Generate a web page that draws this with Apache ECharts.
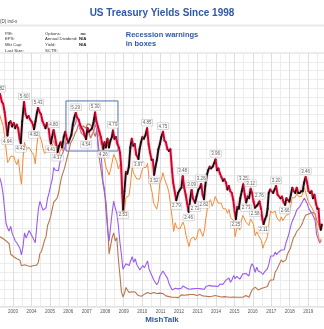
<!DOCTYPE html>
<html><head><meta charset="utf-8">
<script src="https://cdn.jsdelivr.net/npm/echarts@6/dist/echarts.min.js"></script>
<style>html,body{margin:0;padding:0;background:#fff}#c{width:324px;height:329px}</style>
</head><body><div id="c"></div>
<script>
// ---------- DATA ----------
const titleText = 'US Treasury Yields Since 1998';
const noteLines = ['Recession warnings', 'in boxes'];
const footerText = 'MishTalk';

// 30-year yield (black / red), decimal year + value
const tyxDates = [2002.20,2002.30,2002.40,2002.47,2002.55,2002.62,2002.70,2002.78,2002.87,2002.95,
2003.04,2003.12,2003.20,2003.28,2003.36,2003.42,2003.50,2003.60,2003.68,2003.76,2003.85,2003.93,
2004.00,2004.08,2004.14,2004.22,2004.30,2004.36,2004.45,2004.52,2004.60,2004.68,2004.76,2004.84,2004.92,
2005.00,2005.05,2005.12,2005.20,2005.28,2005.36,2005.42,2005.50,2005.58,2005.66,2005.75,2005.83,2005.92,
2006.00,2006.08,2006.16,2006.24,2006.32,2006.40,2006.48,2006.56,2006.64,2006.72,2006.80,2006.88,2006.96,
2007.04,2007.12,2007.20,2007.28,2007.36,2007.45,2007.52,2007.60,2007.68,2007.76,2007.84,2007.90,2007.96,
2008.04,2008.12,2008.20,2008.28,2008.36,2008.42,2008.50,2008.58,2008.66,2008.74,2008.80,2008.86,2008.92,2008.97,
2009.04,2009.12,2009.20,2009.28,2009.36,2009.44,2009.52,2009.60,2009.68,2009.80,2009.86,2009.94,
2010.02,2010.10,2010.18,2010.27,2010.35,2010.43,2010.51,2010.58,2010.65,2010.72,2010.80,2010.88,2010.96,
2011.04,2011.13,2011.21,2011.29,2011.37,2011.45,2011.53,2011.61,2011.68,2011.85,2011.95,
2012.05,2012.13,2012.20,2012.28,2012.36,2012.44,2012.52,2012.60,2012.68,2012.75,2012.87,2012.95,
2013.05,2013.13,2013.20,2013.28,2013.35,2013.42,2013.50,2013.58,2013.66,2013.74,2013.82,2013.90,2013.98,
2014.06,2014.14,2014.22,2014.30,2014.38,2014.46,2014.54,2014.62,2014.70,2014.78,2014.86,2014.94,
2015.02,2015.08,2015.16,2015.24,2015.32,2015.40,2015.48,2015.56,2015.64,2015.72,2015.80,2015.88,2015.96,
2016.04,2016.12,2016.24,2016.36,2016.44,2016.52,2016.58,2016.66,2016.74,2016.80,2016.86,2016.94,
2017.02,2017.10,2017.18,2017.26,2017.34,2017.42,2017.50,2017.58,2017.66,2017.75,2017.82,2017.90,2017.98,
2018.06,2018.14,2018.22,2018.30,2018.38,2018.46,2018.54,2018.62,2018.70,2018.78,2018.86,2018.94,
2019.02,2019.10,2019.18,2019.26,2019.34,2019.42,2019.50,2019.56,2019.62,2019.68,2019.74];
const tyxValues = [5.75,5.82,5.60,5.55,5.30,5.00,4.64,5.00,5.05,4.90,
5.00,4.85,4.95,4.85,4.55,4.42,5.05,5.60,5.25,5.15,5.20,5.10,
5.05,4.95,4.82,5.05,5.30,5.43,5.30,5.25,5.05,4.95,4.85,5.00,4.90,
4.55,4.41,4.60,4.80,4.60,4.35,4.17,4.35,4.45,4.30,4.60,4.75,4.55,
4.45,4.55,4.65,4.95,5.15,5.29,5.15,5.10,4.95,4.85,4.80,4.65,4.54,
4.85,4.75,4.80,4.85,5.00,5.30,5.05,4.90,4.75,4.60,4.40,4.26,4.45,
4.30,4.55,4.30,4.50,4.60,4.79,4.55,4.60,4.40,4.30,4.15,3.80,3.00,2.53,
3.05,3.60,3.55,3.75,4.30,4.55,4.35,4.40,4.10,3.97,4.25,4.45,
4.60,4.55,4.65,4.85,4.40,4.15,3.95,3.95,3.52,3.75,3.95,4.25,4.40,
4.60,4.75,4.50,4.45,4.25,4.20,4.25,3.70,3.30,2.79,3.00,
3.10,3.15,3.48,3.15,2.95,2.70,2.46,2.80,3.09,2.85,2.72,2.90,
3.10,3.15,3.26,2.95,2.82,3.20,3.50,3.65,3.75,3.70,3.75,3.85,3.96,
3.65,3.70,3.55,3.45,3.35,3.40,3.30,3.10,3.20,3.05,3.00,2.80,
2.45,2.25,2.60,2.55,2.85,3.05,3.25,2.95,2.73,2.90,2.85,3.12,3.00,
2.75,2.58,2.65,2.76,2.55,2.25,2.11,2.25,2.35,2.55,3.00,3.10,
3.05,3.00,3.10,3.20,2.95,2.90,2.85,2.90,2.75,2.66,2.85,2.80,2.75,
2.95,3.15,3.05,3.00,3.15,3.00,3.00,3.05,3.05,3.30,3.46,3.30,
3.05,3.00,3.05,2.85,2.95,2.70,2.55,2.55,2.10,1.95,2.10];

// labelled highs/lows of the 30-year line
const labelDates  = [2002.30,2002.70,2003.42,2003.60,2004.14,2004.36,2005.05,2005.20,2005.42,
2006.40,2006.96,2007.45,2007.90,2008.42,2008.97,2009.80,2010.27,2010.65,2011.13,2011.85,
2012.20,2012.52,2012.68,2012.87,2013.20,2013.35,2013.98,2015.08,2015.48,2015.64,2015.88,
2016.12,2016.36,2016.58,2017.26,2017.75,2018.86];
const labelValues = [5.82,4.64,4.42,5.60,4.82,5.43,4.41,4.80,4.17,
5.29,4.54,5.30,4.26,4.79,2.53,3.97,4.85,3.52,4.75,2.79,
3.48,2.46,3.09,2.72,3.26,2.82,3.96,2.25,3.25,2.73,3.12,
2.58,2.76,2.11,3.20,2.66,3.46];
const labelKinds  = ['high','low','low','high','low','high','low','high','low',
'high','low','high','low','high','low','low','high','low','high','low',
'high','low','high','low','high','low','high','low','high','low','high',
'low','high','low','high','low','high'];

// monthly series starting Jan 2002
const monthStart = 2002;
const tenYear = [5.04,4.91,5.28,5.21,5.16,4.93,4.65,4.26,3.87,3.94,4.05,4.03,
4.05,3.90,3.81,3.96,3.57,3.25,3.98,4.45,4.27,4.29,4.30,4.27,
4.15,4.08,3.83,4.35,4.72,4.73,4.50,4.28,4.13,4.10,4.19,4.23,
4.22,4.17,4.50,4.34,4.14,4.00,4.18,4.26,4.20,4.46,4.54,4.47,
4.42,4.57,4.72,4.99,5.11,5.11,5.09,4.88,4.72,4.73,4.60,4.56,
4.76,4.72,4.56,4.69,4.75,5.10,5.00,4.67,4.52,4.53,4.15,4.10,
3.74,3.74,3.51,3.68,3.88,4.10,4.01,3.89,3.69,3.81,3.53,2.30,
2.52,2.87,2.82,2.93,3.29,3.72,3.56,3.59,3.40,3.39,3.40,3.59,
3.73,3.69,3.73,3.85,3.42,3.20,3.01,2.70,2.65,2.54,2.76,3.29,
3.39,3.58,3.41,3.46,3.17,3.00,3.00,2.30,1.90,2.15,2.01,1.98,
1.97,1.97,2.17,2.05,1.80,1.62,1.47,1.68,1.72,1.75,1.65,1.72,
1.91,1.98,1.96,1.76,1.93,2.30,2.58,2.74,2.81,2.62,2.72,2.90,
2.86,2.71,2.72,2.71,2.56,2.60,2.54,2.42,2.53,2.30,2.33,2.21,
1.75,1.98,2.04,1.94,2.20,2.36,2.32,2.17,2.17,2.07,2.26,2.24,
2.09,1.78,1.89,1.81,1.81,1.64,1.42,1.56,1.63,1.76,2.14,2.49,
2.43,2.42,2.48,2.30,2.30,2.19,2.32,2.21,2.20,2.36,2.35,2.40,
2.58,2.86,2.84,2.87,2.98,2.91,2.89,2.89,3.00,3.15,3.12,2.83,
2.71,2.68,2.57,2.53,2.40,2.07,2.06,1.58,1.70];
const twoYear = [3.03,3.02,3.56,3.42,3.26,2.99,2.56,2.13,2.00,1.91,2.05,1.84,
1.74,1.63,1.57,1.62,1.42,1.23,1.47,1.86,1.71,1.75,1.93,1.91,
1.76,1.74,1.58,2.07,2.53,2.76,2.64,2.51,2.53,2.58,2.85,3.01,
3.22,3.38,3.73,3.65,3.64,3.64,3.87,4.04,4.00,4.27,4.42,4.40,
4.40,4.67,4.73,4.89,4.97,5.12,5.06,4.84,4.70,4.72,4.64,4.74,
4.88,4.85,4.57,4.67,4.77,4.96,4.82,4.34,4.06,3.99,3.34,3.12,
2.48,1.97,1.62,2.05,2.45,2.77,2.57,2.42,2.08,1.61,1.25,0.82,
0.83,0.98,0.93,0.93,0.92,1.18,1.02,1.12,0.96,0.95,0.80,0.87,
0.93,0.86,0.96,1.06,0.83,0.72,0.62,0.52,0.48,0.38,0.45,0.62,
0.61,0.77,0.70,0.73,0.56,0.41,0.41,0.23,0.21,0.28,0.25,0.26,
0.24,0.28,0.34,0.29,0.29,0.29,0.25,0.27,0.26,0.28,0.27,0.26,
0.27,0.27,0.26,0.23,0.25,0.33,0.34,0.36,0.40,0.34,0.30,0.34,
0.39,0.33,0.40,0.42,0.39,0.45,0.51,0.47,0.57,0.45,0.53,0.64,
0.55,0.62,0.64,0.54,0.61,0.69,0.67,0.70,0.67,0.63,0.88,0.98,
0.90,0.73,0.88,0.77,0.82,0.73,0.67,0.74,0.77,0.84,0.98,1.20,
1.21,1.20,1.31,1.24,1.30,1.34,1.37,1.34,1.38,1.57,1.70,1.84,
2.03,2.18,2.28,2.38,2.51,2.53,2.61,2.64,2.77,2.86,2.86,2.68,
2.54,2.50,2.41,2.33,2.21,1.81,1.84,1.57,1.65];
const threeMonth = [1.68,1.74,1.79,1.75,1.72,1.70,1.68,1.63,1.60,1.55,1.25,1.20,
1.18,1.18,1.12,1.12,1.08,0.92,0.90,0.95,0.94,0.92,0.93,0.90,
0.88,0.93,0.94,0.94,1.02,1.27,1.33,1.48,1.65,1.76,2.07,2.19,
2.33,2.54,2.74,2.78,2.84,2.97,3.22,3.44,3.42,3.71,3.88,3.89,
4.24,4.43,4.51,4.60,4.72,4.79,4.95,4.96,4.81,4.92,4.94,4.85,
4.98,5.03,4.94,4.87,4.73,4.61,4.82,4.20,3.89,3.90,3.27,3.00,
2.75,2.12,1.26,1.29,1.73,1.86,1.63,1.72,1.13,0.67,0.19,0.03,
0.13,0.30,0.22,0.16,0.18,0.18,0.18,0.17,0.12,0.07,0.05,0.05,
0.06,0.11,0.15,0.16,0.16,0.12,0.16,0.16,0.15,0.13,0.14,0.14,
0.15,0.13,0.10,0.06,0.04,0.04,0.04,0.02,0.01,0.02,0.01,0.01,
0.03,0.09,0.08,0.08,0.09,0.09,0.10,0.10,0.11,0.10,0.09,0.07,
0.07,0.10,0.09,0.06,0.04,0.05,0.04,0.04,0.02,0.05,0.07,0.07,
0.04,0.05,0.05,0.03,0.03,0.04,0.03,0.03,0.02,0.02,0.02,0.03,
0.03,0.02,0.03,0.02,0.02,0.02,0.03,0.07,0.02,0.02,0.13,0.23,
0.26,0.31,0.29,0.23,0.27,0.27,0.30,0.30,0.29,0.33,0.45,0.51,
0.51,0.52,0.74,0.80,0.90,0.99,1.09,1.03,1.05,1.09,1.25,1.34,
1.43,1.59,1.73,1.79,1.90,1.94,2.00,2.07,2.17,2.29,2.37,2.37,
2.40,2.44,2.45,2.43,2.40,2.22,2.15,1.99,1.93];

// recession-warning box (data units: years and yield)
const boxStart = 2005.87, boxEnd = 2008.69, boxLow = 4.20, boxHigh = 5.63;

// axis ranges
const xMin = 2002, xMax = 2020;
const yMin = -0.25, yMax = 7.0;

// ---------- BUILD ----------
const monthly = arr => arr.map((v, i) => [monthStart + (i + 0.5) / 12, v]);
const tyxSegs = tyxDates.map((d, i) => [d, tyxValues[i],
  i > 0 ? tyxDates[i - 1] : d, i > 0 ? tyxValues[i - 1] : tyxValues[i]]);
const tyxLine = tyxDates.map((d, i) => [d, tyxValues[i]]);
const labelData = labelDates.map((d, i) => ({
  value: [d, labelValues[i]],
  label: { position: labelKinds[i] === 'high' ? 'top' : 'bottom' }
}));

const plotTop = 53, pxPerYear = 18.45, x2003 = 13, pxPerUnit = 35;
const gridLeft = x2003 - (2003 - xMin) * pxPerYear;
const gridWidth = (xMax - xMin) * pxPerYear;
const gridHeight = (yMax - yMin) * pxPerUnit;

const chart = echarts.init(document.getElementById('c'), null, { renderer: 'canvas' });
const F = 'Liberation Sans, Arial, sans-serif';
const blue = '#2f58a6';

chart.setOption({
  animation: false,
  backgroundColor: '#fff',
  textStyle: { fontFamily: F },
  grid: { left: gridLeft, top: plotTop, width: gridWidth, height: gridHeight,
          containLabel: false, outerBoundsMode: 'none',
          show: true, borderColor: '#d9d9d9', borderWidth: 1 },
  xAxis: {
    type: 'value', min: xMin, max: xMax, interval: 1,
    axisLine: { show: false }, axisTick: { show: false },
    axisLabel: { fontSize: 4.5, color: '#555', margin: 3, fontFamily: F,
                 showMinLabel: false, showMaxLabel: false,
                 formatter: v => String(v), hideOverlap: false },
    splitLine: { show: true, lineStyle: { color: '#dedede', width: 1 } },
    minorTick: { show: false, splitNumber: 2 },
    minorSplitLine: { show: true, lineStyle: { color: '#ececec', width: 1 } }
  },
  yAxis: {
    type: 'value', min: yMin, max: yMax, interval: 0.25,
    axisLine: { show: false }, axisTick: { show: false }, axisLabel: { show: false },
    splitLine: { show: true, lineStyle: { color: '#ececec', width: 1 } }
  },
  graphic: [
    { type: 'text', left: 'center', top: 8.5, style: { text: titleText, font: 'bold 10px ' + F, fill: blue } },
    { type: 'text', left: 0, top: 19.5, style: { text: '(D) ind-x', font: '4.5px ' + F, fill: '#444' } },
    { type: 'rect', shape: { x: 0, y: 24.5, width: 324, height: 2 }, style: { fill: '#e9e9e9' } },
    { type: 'text', left: 5, top: 32, style: { text: 'P/E:', font: '4.3px ' + F, fill: '#333' } },
    { type: 'text', left: 5, top: 37.3, style: { text: 'EPS:', font: '4.3px ' + F, fill: '#333' } },
    { type: 'text', left: 5, top: 42.8, style: { text: 'Mkt Cap:', font: '4.3px ' + F, fill: '#333' } },
    { type: 'text', left: 5, top: 48.5, style: { text: 'Last Size:', font: '4.3px ' + F, fill: '#333' } },
    { type: 'text', left: 45, top: 32, style: { text: 'Options:', font: '4.3px ' + F, fill: '#333' } },
    { type: 'text', left: 45, top: 37.3, style: { text: 'Annual Dividend:', font: '4.3px ' + F, fill: '#333' } },
    { type: 'text', left: 45, top: 42.8, style: { text: 'Yield:', font: '4.3px ' + F, fill: '#333' } },
    { type: 'text', left: 45, top: 48.5, style: { text: 'SCTR:', font: '4.3px ' + F, fill: '#333' } },
    { type: 'text', left: 80.5, top: 32, style: { text: 'no', font: 'bold 4.3px ' + F, fill: '#222' } },
    { type: 'text', left: 79, top: 37.3, style: { text: 'N/A', font: 'bold 4.3px ' + F, fill: '#222' } },
    { type: 'text', left: 79, top: 42.8, style: { text: 'N/A', font: 'bold 4.3px ' + F, fill: '#222' } },
    { type: 'text', left: 'center', top: 30, style: { text: noteLines.join('\n'), font: 'bold 7.5px ' + F,
      fill: blue, align: 'center', lineHeight: 9.5 } },
    { type: 'text', left: 'center', top: 315.5, style: { text: footerText, font: 'bold 8px ' + F, fill: blue } }
  ],
  series: [
    { type: 'line', data: monthly(threeMonth), symbol: 'none', lineStyle: { color: '#b8764e', width: 1.1 }, z: 2 },
    { type: 'line', data: monthly(twoYear), symbol: 'none', lineStyle: { color: '#9a5cf0', width: 1.1 }, z: 3 },
    { type: 'line', data: monthly(tenYear), symbol: 'none', lineStyle: { color: '#f58a33', width: 1 }, z: 4,
      markArea: { silent: true, itemStyle: { color: 'rgba(0,0,0,0)', borderColor: '#4f72ac', borderWidth: 1 },
        data: [[{ coord: [boxStart, boxLow] }, { coord: [boxEnd, boxHigh] }]] } },
    { type: 'line', data: tyxLine, symbol: 'none', lineStyle: { color: '#f6a9bb', width: 3.4, opacity: 0.6 }, z: 5 },
    { type: 'custom', z: 6, data: tyxSegs, encode: { x: [0, 2], y: [1, 3] },
      renderItem: (params, api) => {
        const a = api.coord([api.value(2), api.value(3)]);
        const b = api.coord([api.value(0), api.value(1)]);
        const up = api.value(1) >= api.value(3);
        return { type: 'line', shape: { x1: a[0], y1: a[1], x2: b[0], y2: b[1] },
          style: { stroke: up ? '#111' : '#d4002a', lineWidth: 1.9, lineCap: 'round' } };
      } },
    { type: 'scatter', z: 10, data: labelData, symbolSize: 0,
      label: { show: true, distance: 2.5, fontSize: 4.5, color: '#333', fontFamily: F,
        backgroundColor: '#fff', borderColor: '#b0b0b0', borderWidth: 0.5, padding: [0.8, 1, 0.4, 1],
        formatter: p => p.value[1].toFixed(2) } }
  ]
});
</script></body></html>
